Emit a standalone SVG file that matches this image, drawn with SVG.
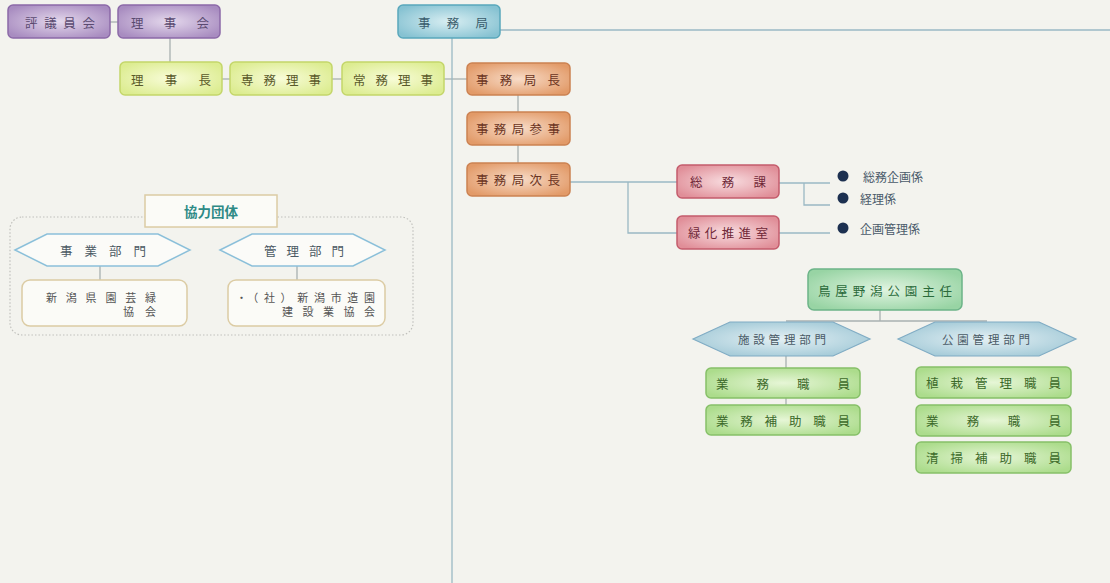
<svg xmlns="http://www.w3.org/2000/svg" width="1110" height="583" viewBox="0 0 1110 583">
<defs>
<radialGradient id="gPur" cx="50%" cy="50%" r="60%"><stop offset="0" stop-color="#e4d8ec"/><stop offset="1" stop-color="#a88cc0"/></radialGradient>
<radialGradient id="gBlu" cx="50%" cy="50%" r="60%"><stop offset="0" stop-color="#d8eef2"/><stop offset="1" stop-color="#86c2d2"/></radialGradient>
<radialGradient id="gYel" cx="50%" cy="50%" r="60%"><stop offset="0" stop-color="#f8fcd8"/><stop offset="1" stop-color="#dcec90"/></radialGradient>
<radialGradient id="gOra" cx="50%" cy="50%" r="60%"><stop offset="0" stop-color="#f8dcc8"/><stop offset="1" stop-color="#e29a68"/></radialGradient>
<radialGradient id="gPnk" cx="50%" cy="50%" r="60%"><stop offset="0" stop-color="#f8dde0"/><stop offset="1" stop-color="#e08e98"/></radialGradient>
<radialGradient id="gGrn" cx="50%" cy="50%" r="60%"><stop offset="0" stop-color="#e0f4e0"/><stop offset="1" stop-color="#98d4a4"/></radialGradient>
<radialGradient id="gLg" cx="50%" cy="50%" r="60%"><stop offset="0" stop-color="#e6f6d6"/><stop offset="1" stop-color="#acdc8c"/></radialGradient>
<radialGradient id="gHex" cx="50%" cy="50%" r="60%"><stop offset="0" stop-color="#e4f0f4"/><stop offset="1" stop-color="#a0c8d6"/></radialGradient>
</defs>
<style>
text{font-family:"Noto Sans CJK JP","Noto Sans",sans-serif;font-size:12.5px;dominant-baseline:central}
.pur{fill:url(#gPur);stroke:#8c6aa8;stroke-width:1.5}
.blu{fill:url(#gBlu);stroke:#5aa8bc;stroke-width:1.5}
.yel{fill:url(#gYel);stroke:#c4d66a;stroke-width:1.5}
.ora{fill:url(#gOra);stroke:#cc8252;stroke-width:1.5}
.pnk{fill:url(#gPnk);stroke:#c45c6c;stroke-width:1.5}
.grn{fill:url(#gGrn);stroke:#6cb488;stroke-width:1.5}
.lg{fill:url(#gLg);stroke:#86c068;stroke-width:1.5}
.hex{fill:url(#gHex);stroke:#80acc4;stroke-width:1.2}
.hexw{fill:#fbfbf8;stroke:#8cc0da;stroke-width:1.5}
.tan{fill:#fbfbf7;stroke:#dccca4;stroke-width:1.5}
.tp{fill:#5a4a70}.tb{fill:#3a5c6c}.ty{fill:#5a5a2a}.to{fill:#6a3422}.tk{fill:#702838}.tg{fill:#2a6a3a}.tl{fill:#3c6a2a}.th{fill:#4a5a66;font-size:11.5px}.tw{fill:#4c5a64}.tt{fill:#555;font-size:11px}
.ln{fill:none;stroke:#9ab8c4;stroke-width:1.3}
.lg2{fill:none;stroke:#a8b0b0;stroke-width:1.3}
.li{fill:#4a5a6a;font-size:12px}
</style>
<rect width="1110" height="583" fill="#f3f3ee"/>

<g id="connectors">
<line class="lg2" x1="110" y1="22" x2="118" y2="22"/>
<line class="lg2" x1="170" y1="38" x2="170" y2="62"/>
<line class="lg2" x1="222" y1="79" x2="230" y2="79"/>
<line class="lg2" x1="332" y1="79" x2="342" y2="79"/>
<line class="lg2" x1="444" y1="79" x2="467" y2="79"/>
<line class="ln" x1="500" y1="30" x2="1110" y2="30"/>
<line class="ln" x1="452" y1="38" x2="452" y2="583"/>
<line class="lg2" x1="518" y1="95" x2="518" y2="112"/>
<line class="lg2" x1="518" y1="145" x2="518" y2="163"/>
<polyline class="ln" points="570,182 677,182"/>
<polyline class="ln" points="628,182 628,233 677,233"/>
<polyline class="ln" points="779,183 830,183"/>
<polyline class="ln" points="804,183 804,205 830,205"/>
<polyline class="ln" points="779,233 830,233"/>
<line class="lg2" x1="100" y1="266" x2="100" y2="280"/>
<line class="lg2" x1="297" y1="266" x2="297" y2="280"/>
<line class="lg2" x1="880" y1="310" x2="880" y2="321"/>
<line class="lg2" x1="786" y1="321" x2="987" y2="321"/>
<line class="lg2" x1="786" y1="356" x2="786" y2="368"/>
<line class="lg2" x1="786" y1="398" x2="786" y2="405"/>
</g>

<g id="n-hyogiinkai"><rect class="pur" x="8" y="5" width="102" height="33" rx="5"/><text class="tp" x="25" y="22" textLength="70" lengthAdjust="spacing">評議員会</text></g>
<g id="n-rijikai"><rect class="pur" x="118" y="5" width="102" height="33" rx="5"/><text class="tp" x="131" y="22" textLength="78" lengthAdjust="spacing">理事会</text></g>
<g id="n-jimukyoku"><rect class="blu" x="398" y="5" width="102" height="33" rx="5"/><text class="tb" x="418" y="22" textLength="70" lengthAdjust="spacing">事務局</text></g>

<g id="n-rijicho"><rect class="yel" x="120" y="62" width="102" height="33" rx="5"/><text class="ty" x="131" y="79" textLength="80" lengthAdjust="spacing">理事長</text></g>
<g id="n-senmu"><rect class="yel" x="230" y="62" width="102" height="33" rx="5"/><text class="ty" x="241" y="79" textLength="80" lengthAdjust="spacing">専務理事</text></g>
<g id="n-jomu"><rect class="yel" x="342" y="62" width="102" height="33" rx="5"/><text class="ty" x="353" y="79" textLength="80" lengthAdjust="spacing">常務理事</text></g>

<g id="n-kyokucho"><rect class="ora" x="467" y="63" width="103" height="32" rx="5"/><text class="to" x="476" y="79" textLength="84" lengthAdjust="spacing">事務局長</text></g>
<g id="n-sanji"><rect class="ora" x="467" y="112" width="103" height="33" rx="5"/><text class="to" x="476" y="128.5" textLength="84" lengthAdjust="spacing">事務局参事</text></g>
<g id="n-jicho"><rect class="ora" x="467" y="163" width="103" height="33" rx="5"/><text class="to" x="476" y="179.5" textLength="84" lengthAdjust="spacing">事務局次長</text></g>

<g id="n-somuka"><rect class="pnk" x="677" y="165" width="102" height="33" rx="5"/><text class="tk" x="690" y="181.5" textLength="76" lengthAdjust="spacing">総務課</text></g>
<g id="n-ryokka"><rect class="pnk" x="677" y="216" width="102" height="33" rx="5"/><text class="tk" x="688" y="232.5" textLength="80" lengthAdjust="spacing">緑化推進室</text></g>

<g id="n-kakari">
<circle cx="843" cy="176" r="5.5" fill="#1c3050"/><text class="li" x="863" y="176">総務企画係</text>
<circle cx="843" cy="198" r="5.5" fill="#1c3050"/><text class="li" x="860" y="198">経理係</text>
<circle cx="843" cy="228" r="5.5" fill="#1c3050"/><text class="li" x="860" y="228">企画管理係</text>
</g>

<g id="g-kyoryoku">
<rect x="10" y="217" width="403" height="118" rx="12" fill="none" stroke="#c0c0bc" stroke-width="1.2" stroke-dasharray="1.5,2"/>
<rect class="tan" x="145" y="195" width="132" height="32"/>
<text x="211" y="211" text-anchor="middle" style="fill:#2e8a86;font-weight:bold;font-size:13.5px">協力団体</text>
</g>
<g id="n-jigyo"><polygon class="hexw" points="15,250 47,234 158,234 190,250 158,266 47,266"/><text class="tw" x="60" y="250" textLength="86" lengthAdjust="spacing">事業部門</text></g>
<g id="n-kanri"><polygon class="hexw" points="220,250 252,234 353,234 385,250 353,266 252,266"/><text class="tw" x="264" y="250" textLength="80" lengthAdjust="spacing">管理部門</text></g>
<g id="n-engei"><rect class="tan" x="22" y="280" width="165" height="46" rx="8"/><text class="tt" x="46" y="297" textLength="110" lengthAdjust="spacing">新潟県園芸緑</text><text class="tt" x="123" y="311" textLength="33" lengthAdjust="spacing">協会</text></g>
<g id="n-zoen"><rect class="tan" x="228" y="280" width="157" height="46" rx="8"/><text class="tt" x="236" y="297" textLength="139" lengthAdjust="spacing">・（社）新潟市造園</text><text class="tt" x="282" y="311" textLength="93" lengthAdjust="spacing">建設業協会</text></g>

<g id="n-shunin"><rect class="grn" x="808" y="269" width="154" height="41" rx="6"/><text class="tg" x="818" y="290" textLength="134" lengthAdjust="spacing">鳥屋野潟公園主任</text></g>
<g id="n-shisetsu"><polygon class="hex" points="693,339 730,322 833,322 870,339 833,356 730,356"/><text class="th" x="738" y="339" textLength="88" lengthAdjust="spacing">施設管理部門</text></g>
<g id="n-koen"><polygon class="hex" points="898,339 935,322 1039,322 1076,339 1039,356 935,356"/><text class="th" x="942" y="339" textLength="88" lengthAdjust="spacing">公園管理部門</text></g>

<g id="n-gyomu1"><rect class="lg" x="706" y="368" width="154" height="30" rx="5"/><text class="tl" x="716" y="383" textLength="134" lengthAdjust="spacing">業務職員</text></g>
<g id="n-hojo1"><rect class="lg" x="706" y="405" width="154" height="30" rx="5"/><text class="tl" x="716" y="420" textLength="134" lengthAdjust="spacing">業務補助職員</text></g>
<g id="n-shokusai"><rect class="lg" x="916" y="367" width="155" height="31" rx="5"/><text class="tl" x="926" y="382.5" textLength="135" lengthAdjust="spacing">植栽管理職員</text></g>
<g id="n-gyomu2"><rect class="lg" x="916" y="405" width="155" height="31" rx="5"/><text class="tl" x="926" y="420.5" textLength="135" lengthAdjust="spacing">業務職員</text></g>
<g id="n-seiso"><rect class="lg" x="916" y="442" width="155" height="31" rx="5"/><text class="tl" x="926" y="457.5" textLength="135" lengthAdjust="spacing">清掃補助職員</text></g>
</svg>
